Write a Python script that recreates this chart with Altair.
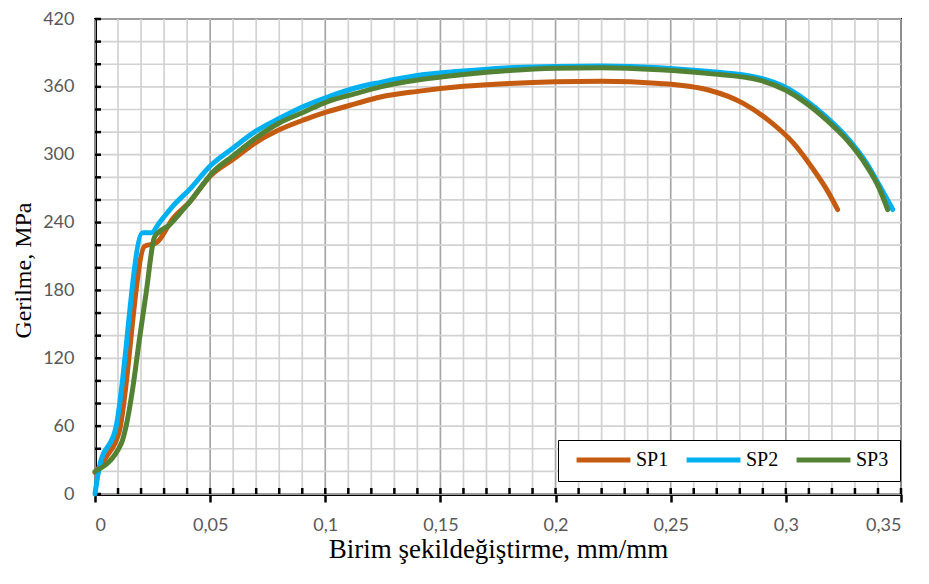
import altair as alt
import pandas as pd

# ---- data ----
sp1_x = [0.0, 0.005, 0.0105, 0.0215, 0.0266, 0.034, 0.041, 0.050, 0.060, 0.070, 0.080, 0.091,
         0.101, 0.113, 0.124, 0.140, 0.160, 0.180, 0.200, 0.220, 0.2451, 0.2668, 0.2813,
         0.2929, 0.303, 0.3117, 0.3175, 0.3225]
sp1_y = [19, 33, 55, 219, 222, 244, 258, 281, 296, 311, 322, 331,
         338, 345, 351, 356, 360.5, 363, 364.5, 365, 363, 357, 345.6,
         329.7, 310.9, 287.7, 270, 251.5]

sp2_x = [0.0, 0.0018, 0.009, 0.0207, 0.0244, 0.028, 0.034, 0.0414, 0.050, 0.060, 0.070, 0.080,
         0.091, 0.101, 0.113, 0.124, 0.140, 0.160, 0.180, 0.200, 0.220, 0.2451, 0.2668,
         0.2885, 0.300, 0.3088, 0.3175, 0.3262, 0.3349, 0.3406, 0.3464]
sp2_y = [0, 23, 58, 231, 231, 240, 255, 270, 290, 306, 321, 332,
         343, 351, 359, 364, 370, 374, 377, 378, 378.5, 377, 373.5,
         368, 359.5, 348, 333.5, 316, 293, 273, 251.5]

sp3_x = [0.0, 0.0114, 0.0135, 0.0164, 0.0193, 0.0222, 0.0258, 0.028, 0.0324, 0.0368, 0.041,
         0.047, 0.050, 0.060, 0.070, 0.080, 0.091, 0.101, 0.113, 0.124, 0.140, 0.160, 0.180,
         0.200, 0.220, 0.2451, 0.2668, 0.2885, 0.300, 0.3088, 0.3175, 0.3262, 0.3349,
         0.3406, 0.3442]
sp3_y = [20, 44.5, 60, 93.7, 137, 177.7, 227, 232, 238, 248, 258,
         274, 282, 299, 315, 328, 338, 347, 354, 360, 366, 371, 374.5,
         376.5, 377, 375.2, 371.7, 366, 357, 345.6, 331, 313.8, 290.6,
         270, 251.5]

series_names = ["SP1", "SP2", "SP3"]
series_colors = ["#C55A11", "#00B0F0", "#548235"]

x_label_vals = [0, 0.05, 0.1, 0.15, 0.2, 0.25, 0.3, 0.35]
x_grid_vals = [round(i * 0.01, 2) for i in range(36)]
y_label_vals = [0, 60, 120, 180, 240, 300, 360, 420]
y_grid_vals = list(range(0, 421, 20))

rows = []
for name, xs, ys in [("SP1", sp1_x, sp1_y), ("SP2", sp2_x, sp2_y), ("SP3", sp3_x, sp3_y)]:
    for i, (a, b) in enumerate(zip(xs, ys)):
        rows.append({"series": name, "strain": a, "stress": b, "idx": i})
df = pd.DataFrame(rows)

xgrid_df = pd.DataFrame({"strain": x_grid_vals,
                         "major": [round(v * 100) % 5 == 0 for v in x_grid_vals]})
ygrid_df = pd.DataFrame({"stress": y_grid_vals})

W, H = 806, 475
x_scale = alt.Scale(domain=[0, 0.35], nice=False, zero=False)
y_scale = alt.Scale(domain=[0, 420], nice=False, zero=False)

X_TITLE = "Birim şekildeğiştirme, mm/mm"
Y_TITLE = "Gerilme, MPa"
x_axis = alt.Axis(values=x_label_vals, grid=False, tickSize=8, tickWidth=2.5,
                  tickColor="black", domainColor="black", domainWidth=3,
                  labelExpr="replace(format(datum.value, '~g'), '.', ',')",
                  labelPadding=14, titlePadding=2, titleFontSize=27)
y_axis = alt.Axis(values=y_label_vals, grid=False, ticks=False,
                  domainColor="black", domainWidth=3,
                  labelPadding=21, titlePadding=7, titleFontSize=24, titleY=251)

vgrid = alt.Chart(xgrid_df).mark_rule().encode(
    x=alt.X("strain:Q", scale=x_scale, axis=x_axis, title=X_TITLE),
    color=alt.condition("datum.major", alt.value("#a6a6a6"), alt.value("#d2d2d2")),
    strokeWidth=alt.value(1.7),
)
hgrid = alt.Chart(ygrid_df).mark_rule(color="#d2d2d2", strokeWidth=1.7).encode(
    y=alt.Y("stress:Q", scale=y_scale, axis=y_axis, title=Y_TITLE),
)
xticks = alt.Chart(xgrid_df).mark_rule(color="black", strokeWidth=2.5).encode(
    x=alt.X("strain:Q", scale=x_scale, axis=x_axis, title=X_TITLE),
    y=alt.value(H), y2=alt.value(H - 6),
)
yticks = alt.Chart(ygrid_df).mark_rule(color="black", strokeWidth=2.5).encode(
    y=alt.Y("stress:Q", scale=y_scale, axis=y_axis, title=Y_TITLE),
    x=alt.value(0), x2=alt.value(6),
)

lines = alt.Chart(df).mark_line(strokeWidth=5, interpolate="monotone",
                                strokeCap="round", strokeJoin="round").encode(
    x=alt.X("strain:Q", scale=x_scale, axis=x_axis, title=X_TITLE),
    y=alt.Y("stress:Q", scale=y_scale, axis=y_axis, title=Y_TITLE),
    color=alt.Color("series:N",
                    scale=alt.Scale(domain=series_names, range=series_colors),
                    legend=alt.Legend(orient="none", legendX=463, legendY=421,
                                      direction="horizontal", title=None,
                                      strokeColor="black", fillColor="white",
                                      padding=11, symbolType="stroke",
                                      symbolStrokeWidth=5, symbolSize=2900,
                                      symbolOffset=5,
                                      clipHeight=18, columnPadding=10,
                                      labelFont="Liberation Serif", labelFontSize=20,
                                      labelColor="black", labelOffset=3)),
    order=alt.Order("idx:Q"),
)

chart = alt.layer(vgrid, hgrid, xticks, yticks, lines).properties(
    width=W, height=H,
    autosize=alt.AutoSizeParams(type="none"),
    padding={"left": 87, "top": 11, "right": 20, "bottom": 80},
).configure_view(
    stroke="black", strokeWidth=2
).configure_axis(
    labelFont="Lato", labelFontSize=18, labelColor="#595959",
    titleFont="Liberation Serif", titleFontWeight="normal",
    titleColor="black",
)

chart.save("out.html", embed_options={"renderer": "svg", "actions": False})
